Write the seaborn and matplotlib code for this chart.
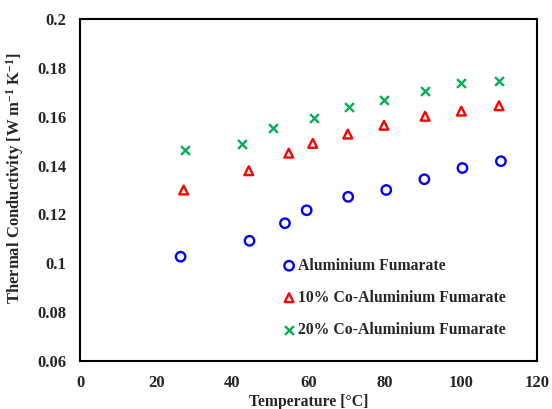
import pandas as pd
import matplotlib.pyplot as plt
import seaborn as sns
from matplotlib.ticker import FuncFormatter

# values
temp_al = [26.4, 44.5, 53.8, 59.5, 70.4, 80.4, 90.4, 100.4, 110.5]
k_al = [0.1027, 0.1092, 0.1164, 0.1217, 0.1272, 0.1300, 0.1344, 0.1390, 0.1418]

temp_co10 = [27.2, 44.3, 54.8, 61.1, 70.3, 79.8, 90.6, 100.1, 110.0]
k_co10 = [0.1300, 0.1379, 0.1451, 0.1491, 0.1529, 0.1565, 0.1602, 0.1623, 0.1645]

temp_co20 = [27.6, 42.6, 50.7, 61.4, 70.7, 79.8, 90.6, 100.1, 110.0]
k_co20 = [0.1465, 0.1487, 0.1554, 0.1593, 0.1640, 0.1668, 0.1706, 0.1737, 0.1747]

labels = ['Aluminium Fumarate', '10% Co-Aluminium Fumarate', '20% Co-Aluminium Fumarate']
x_ticks = [0, 20, 40, 60, 80, 100, 120]
y_ticks = [0.06, 0.08, 0.1, 0.12, 0.14, 0.16, 0.18, 0.2]

sns.set_style('white')
plt.rcParams['font.family'] = ['Liberation Serif', 'DejaVu Serif']
plt.rcParams['font.weight'] = 'bold'
plt.rcParams['mathtext.fontset'] = 'custom'
plt.rcParams['mathtext.rm'] = 'Liberation Serif:bold'
plt.rcParams['mathtext.bf'] = 'Liberation Serif:bold'
plt.rcParams['mathtext.default'] = 'bf'

fig = plt.figure(figsize=(5.52, 4.09), dpi=100)
ax = fig.add_axes([0.145, 0.1174, 0.828, 0.8361])

sns.scatterplot(x=temp_al, y=k_al, marker='o', s=46, facecolor='none',
                edgecolor='#0000ff', linewidth=1.7, label=labels[0], ax=ax)
sns.scatterplot(x=temp_co10, y=k_co10, marker='^', s=40, facecolor='none',
                edgecolor='#ff0000', linewidth=1.7, label=labels[1], ax=ax)
sns.scatterplot(x=temp_co20, y=k_co20, marker='x', s=40, color='#00b050',
                linewidth=1.7, label=labels[2], ax=ax)

ax.set_xlim(0, 120)
ax.set_ylim(0.06, 0.2)
ax.set_xticks(x_ticks)
ax.set_yticks(y_ticks)
ax.yaxis.set_major_formatter(FuncFormatter(lambda v, p: '%g' % round(v, 2)))
ax.tick_params(length=0, labelsize=12)
ax.tick_params(axis='y', pad=10)
ax.tick_params(axis='x', pad=10)
for lab in ax.get_xticklabels() + ax.get_yticklabels():
    lab.set_fontweight('bold')

for sp in ax.spines.values():
    sp.set_color('black')
    sp.set_linewidth(1.5)

ax.set_xlabel('Temperature [°C]', fontsize=11.3, fontweight='bold')
ax.set_ylabel('Thermal Conductivity [W m$^{-1}$ K$^{-1}$]',
              fontsize=12, fontweight='bold')
ax.xaxis.set_label_coords(0.501, -0.097)
ax.yaxis.set_label_coords(-0.118, 0.535)

leg = ax.legend(loc='upper left', bbox_to_anchor=(0.423, 0.32), frameon=False,
                handletextpad=0.0, handlelength=1.2, labelspacing=1.02,
                markerscale=1.0, borderaxespad=0,
                prop={'family': 'Liberation Serif', 'weight': 'bold', 'size': 11.3})

fig.savefig('out.png', dpi=100)
